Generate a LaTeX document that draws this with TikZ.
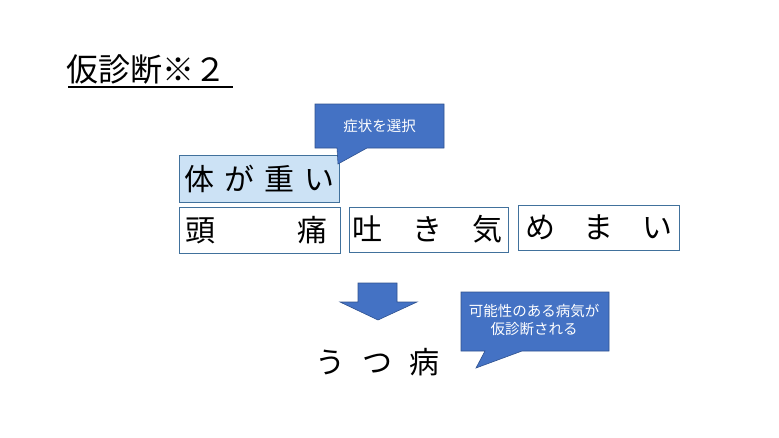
\documentclass[tikz,border=0pt]{standalone}
\usepackage{fontspec}
\setmainfont{Noto Sans CJK JP}
\definecolor{boxline}{HTML}{41719C}
\definecolor{calfill}{HTML}{4472C4}
\definecolor{calline}{HTML}{2F528F}
\definecolor{lightfill}{HTML}{CCE2F5}
\tikzset{
  symbox/.style={draw=boxline, line width=0.9pt, inner sep=0pt, minimum width=#1, minimum height=46pt},
  bigtxt/.style={inner sep=0pt, font=\fontsize{30}{30}\selectfont},
  caltxt/.style={inner sep=0pt, text=white, align=center, font=\fontsize{14.5}{18}\selectfont},
  calshape/.style={fill=calfill, draw=calline, line width=0.6pt}
}
\begin{document}
\begin{tikzpicture}[x=1pt,y=-1pt]
\useasboundingbox (0,0) rectangle (779,437);
% title
\node[inner sep=0pt, anchor=west, font=\fontsize{32}{32}\selectfont] (title) at (66,69) {仮診断※２};
\draw[line width=2pt] (68,87) -- (233,87);
% symptom boxes
\node[symbox=160pt, minimum height=47pt, fill=lightfill] (b1) at (259,178.5) {};
\node[bigtxt] (t1) at (259.5,178.5) {\makebox[151pt][s]{体\hfill が\hfill 重\hfill い}};
\node[symbox=161pt] (b2) at (259.5,230) {};
\node[bigtxt] (t2) at (256.5,230) {\makebox[143pt][s]{頭\hfill 痛}};
\node[symbox=159pt, minimum height=45pt] (b3) at (428.5,229.5) {};
\node[bigtxt] (t3) at (427,229.5) {\makebox[150pt][s]{吐\hfill き\hfill 気}};
\node[symbox=161pt, minimum height=45pt] (b4) at (598.5,227.5) {};
\node[bigtxt] (t4) at (598.5,227.5) {\makebox[147pt][s]{め\hfill ま\hfill い}};
% callout 1
\draw[calshape] (315,104) -- (444,104) -- (444,148) -- (367,148) -- (338,164) -- (337,148) -- (315,148) -- cycle;
\node[caltxt] (c1) at (379.5,126) {症状を選択};
% arrow
\draw[calshape] (358,283) -- (397,283) -- (397,302) -- (417,302) -- (378,320) -- (340,302) -- (358,302) -- cycle;
% result
\node[bigtxt] (res) at (377.5,362) {\makebox[125pt][s]{う\hfill つ\hfill 病}};
% callout 2
\draw[calshape] (461,292) -- (609,292) -- (609,351) -- (522,351) -- (476,368) -- (485,351) -- (461,351) -- cycle;
\node[caltxt] (c2) at (534,320) {可能性のある病気が\\仮診断される};
\end{tikzpicture}
\end{document}
